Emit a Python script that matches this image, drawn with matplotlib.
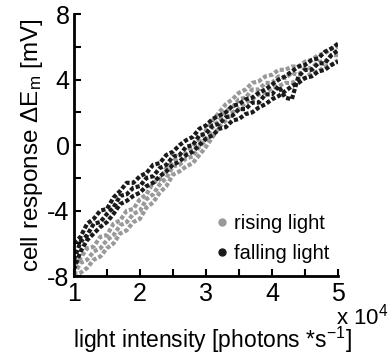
import matplotlib
matplotlib.use("Agg")
import matplotlib.pyplot as plt
from matplotlib.lines import Line2D

plt.rcParams["font.family"] = ["Liberation Sans", "DejaVu Sans"]
plt.rcParams["mathtext.fontset"] = "custom"
plt.rcParams["mathtext.rm"] = "Liberation Sans"
plt.rcParams["mathtext.it"] = "Liberation Sans"

# ========== DATA ==========
x = [1.0, 1.1, 1.2, 1.3, 1.4, 1.5, 1.6, 1.7, 1.8, 1.9,
     2.0, 2.1, 2.2, 2.3, 2.4, 2.5, 2.6, 2.7, 2.8, 2.9,
     3.0, 3.1, 3.2, 3.3, 3.4, 3.5, 3.6, 3.7, 3.8, 3.9,
     4.0, 4.1, 4.2, 4.3, 4.4, 4.5, 4.6, 4.7, 4.8, 4.9, 5.0]

# rising light (grey), three repetitions
rise_1 = [-7.3, -6.9, -6.3, -6.2, -5.6, -5.5, -4.8, -4.6, -4.0, -3.9,
          -3.3, -3.0, -2.3, -2.1, -1.4, -1.0, -0.6, -0.5, -0.1, 0.3,
          0.9, 1.5, 2.0, 2.5, 2.8, 3.2, 3.4, 3.8, 3.9, 4.2,
          4.3, 4.6, 4.6, 4.8, 4.8, 5.1, 5.2, 5.5, 5.6, 5.9, 6.0]
rise_2 = [-8.0, -7.8, -7.5, -7.0, -6.8, -6.3, -6.0, -5.4, -5.2, -4.7,
          -4.5, -3.8, -3.5, -2.9, -2.5, -1.8, -1.6, -1.3, -1.1, -0.6,
          -0.1, 0.5, 1.1, 1.5, 2.0, 2.2, 2.6, 2.8, 3.1, 3.2,
          3.5, 3.6, 3.8, 3.8, 4.0, 4.1, 4.4, 4.5, 4.8, 4.9, 5.2]
rise_3 = [-7.9, -7.2, -7.0, -6.5, -6.3, -5.8, -5.5, -4.9, -4.7, -4.2,
          -4.0, -3.3, -3.0, -2.4, -2.0, -1.3, -1.2, -0.8, -0.7, -0.1,
          0.3, 1.1, 1.5, 2.1, 2.3, 2.8, 2.9, 3.4, 3.4, 3.8,
          3.8, 4.2, 4.1, 4.4, 4.3, 4.7, 4.7, 5.1, 5.1, 5.5, 5.5]

# falling light (black), three repetitions
fall_1 = [-6.0, -5.6, -4.8, -4.5, -4.0, -3.9, -3.2, -2.8, -2.3, -2.3,
          -1.9, -1.7, -1.2, -1.1, -0.6, -0.4, 0.0, 0.3, 0.5, 1.0,
          1.2, 1.6, 1.8, 2.0, 2.4, 2.5, 2.8, 2.9, 3.2, 3.4,
          3.7, 4.0, 4.2, 4.5, 4.8, 4.9, 5.2, 5.3, 5.7, 5.9, 6.2]
fall_2 = [-7.6, -6.5, -5.8, -5.4, -5.0, -4.7, -4.2, -3.6, -3.4, -3.1,
          -2.9, -2.5, -2.3, -1.9, -1.6, -1.2, -1.0, -0.6, -0.4, 0.0,
          0.4, 0.6, 1.0, 1.1, 1.5, 1.6, 1.9, 2.0, 2.3, 2.5,
          2.8, 3.0, 3.3, 3.6, 3.8, 4.1, 4.2, 4.5, 4.6, 4.9, 5.1]
fall_3 = [-7.0, -5.9, -5.5, -4.8, -4.7, -4.2, -3.8, -3.1, -3.0, -2.6,
          -2.5, -2.0, -1.9, -1.4, -1.2, -0.7, -0.6, -0.1, 0.0, 0.6,
          0.7, 1.2, 1.3, 1.7, 1.8, 2.2, 2.2, 2.6, 2.6, 3.1,
          3.1, 3.6, 2.9, 2.8, 4.2, 4.6, 4.6, 5.0, 5.0, 5.5, 5.8]

GREY = "#999999"
BLACK = "#1a1a1a"

# ========== FIGURE ==========
fig = plt.figure(figsize=(3.89, 3.54), dpi=100)
ax = fig.add_axes([0.190, 0.220, 0.679, 0.740])

for trace in (rise_1, rise_2, rise_3):
    ax.plot(x, trace, color=GREY, lw=3, ls=(0, (1, 0.5)))
for trace in (fall_1, fall_2, fall_3):
    ax.plot(x, trace, color=BLACK, lw=3, ls=(0, (1, 0.5)))

ax.set_xlim(1, 5)
ax.set_ylim(-8, 8)
ax.set_xticks([1, 1.5, 2, 2.5, 3, 3.5, 4, 4.5, 5])
ax.set_xticklabels(["1", "", "2", "", "3", "", "4", "", "5"])
ax.set_yticks([-8, -6, -4, -2, 0, 2, 4, 6, 8])
ax.set_yticklabels(["-8", "", "-4", "", "0", "", "4", "", "8"])
ax.tick_params(direction="in", length=5, width=1.5, labelsize=18)
ax.tick_params(axis="x", pad=4)
ax.tick_params(axis="y", pad=3)

for side in ("top", "right"):
    ax.spines[side].set_visible(False)
for side in ("left", "bottom"):
    ax.spines[side].set_linewidth(2)

ax.set_xlabel("light intensity [photons *s$^{-1}$]", fontsize=16.5)
ax.xaxis.set_label_coords(0.524, -0.185)
ax.set_ylabel("cell response \u0394E$_{\\mathrm{m}}$ [mV]", fontsize=17.5, labelpad=2)
fig.text(0.864, 0.084, "x 10$^4$", fontsize=16)

handles = [Line2D([], [], marker="o", ms=5, ls="none", color=GREY),
           Line2D([], [], marker="o", ms=5, ls="none", color=BLACK)]
ax.legend(handles, ["rising light", "falling light"], frameon=False,
          fontsize=14.5, loc="lower right", bbox_to_anchor=(1.035, -0.02),
          handletextpad=0.1, handlelength=1.0, labelspacing=0.55)

fig.savefig("out.png", dpi=100)
